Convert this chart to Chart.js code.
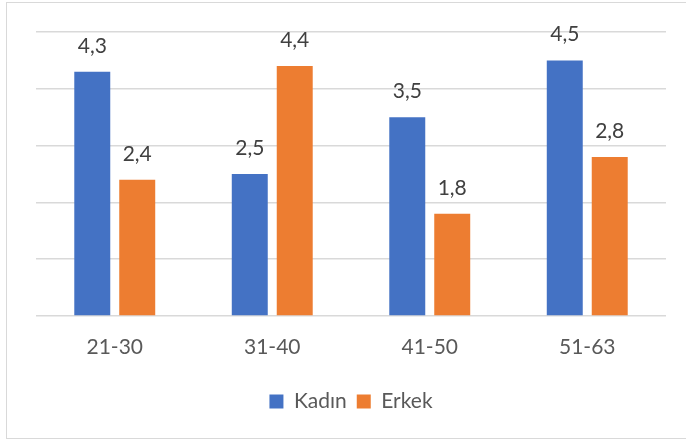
<!DOCTYPE html>
<html>
<head>
<meta charset="utf-8">
<script src="https://cdn.jsdelivr.net/npm/chart.js@4"></script>
<style>
  html, body { margin: 0; padding: 0; background: #fff; overflow: hidden; }
  #frame { position: absolute; left: 6px; top: 2px; width: 690px; height: 435px; border: 1px solid #d9d9d9; }
  #wrap { position: absolute; left: 0; top: 0; width: 686px; height: 442px; }
</style>
</head>
<body>
<div id="frame"></div>
<div id="wrap"><canvas id="myChart"></canvas></div>
<script>
const labels = ['21-30', '31-40', '41-50', '51-63'];
const kadin = [4.3, 2.5, 3.5, 4.5];
const erkek = [2.4, 4.4, 1.8, 2.8];

const textColor = '#595959';
const fontFamily = 'Lato, "Open Sans", sans-serif';

// draws the value above each bar, with a decimal comma
const barValues = {
  id: 'barValues',
  afterDatasetsDraw(chart) {
    const ctx = chart.ctx;
    ctx.save();
    ctx.font = '21px ' + fontFamily;
    ctx.fillStyle = '#404040';
    ctx.textAlign = 'center';
    ctx.textBaseline = 'alphabetic';
    chart.data.datasets.forEach(function (ds, i) {
      chart.getDatasetMeta(i).data.forEach(function (bar, j) {
        ctx.fillText(ds.data[j].toFixed(1).replace('.', ','), bar.x, bar.y - 19);
      });
    });
    ctx.restore();
  }
};

const data = {
  labels: labels,
  datasets: [{
    label: 'Kadın',
    data: kadin,
    backgroundColor: '#4472C4'
  },
  {
    label: 'Erkek',
    data: erkek,
    backgroundColor: '#ED7D31'
  }]
};

const config = {
  type: 'bar',
  data: data,
  plugins: [barValues],
  options: {
    responsive: true,
    maintainAspectRatio: false,
    animation: false,
    categoryPercentage: 0.571,
    barPercentage: 0.8,
    layout: {
      padding: { left: 36, right: 20, top: 32, bottom: 20 }
    },
    scales: {
      x: {
        grid: { display: false },
        border: { display: false },
        ticks: { color: textColor, font: { family: fontFamily, size: 21 }, padding: 11 },
        afterFit: function (scale) { scale.height = 65; }
      },
      y: {
        min: 0,
        max: 5,
        ticks: { display: false, stepSize: 1 },
        border: { display: false },
        grid: { color: '#d9d9d9', lineWidth: 1.5, drawTicks: false }
      }
    },
    plugins: {
      tooltip: { enabled: false },
      legend: {
        position: 'bottom',
        labels: {
          color: textColor,
          font: { family: fontFamily, size: 21 },
          boxWidth: 14,
          boxHeight: 14,
          padding: 10
        }
      }
    }
  }
};

var myChart = new Chart(document.getElementById('myChart'), config);
</script>
</body>
</html>
